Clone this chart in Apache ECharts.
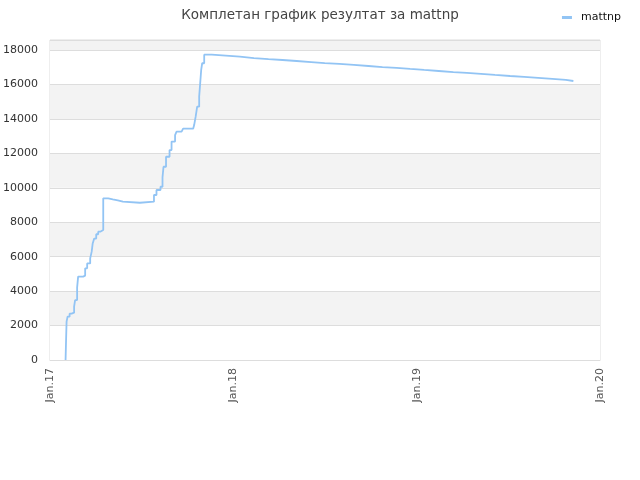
<!DOCTYPE html>
<html>
<head>
<meta charset="utf-8">
<script src="https://cdn.jsdelivr.net/npm/echarts@6/dist/echarts.min.js"></script>
<style>html,body{margin:0;padding:0;background:#fff}#c{width:640px;height:480px}</style>
</head>
<body>
<div id="c"></div>
<script>
var titleText = 'Комплетан график резултат за mattnp';
var seriesName = 'mattnp';
var dates = ['2017-02-01','2017-02-02','2017-02-03','2017-02-05','2017-02-09','2017-02-13','2017-02-18','2017-02-20','2017-02-24','2017-02-26',
 '2017-03-08','2017-03-12','2017-03-16','2017-03-22','2017-03-25','2017-03-27','2017-03-30','2017-04-03','2017-04-07','2017-04-11',
 '2017-04-17','2017-04-27','2017-05-06','2017-05-16','2017-05-26','2017-06-29','2017-07-27','2017-08-01','2017-08-09','2017-08-13',
 '2017-08-15','2017-08-20','2017-08-27','2017-08-31','2017-09-07','2017-09-10','2017-09-20','2017-09-23','2017-10-13','2017-10-15',
 '2017-10-18','2017-10-21','2017-10-25','2017-10-27','2017-10-29','2017-10-31','2017-11-04','2017-11-19','2017-12-17','2018-01-14',
 '2018-02-11','2018-03-12','2018-04-09','2018-05-07','2018-06-05','2018-07-02','2018-07-31','2018-08-29','2018-09-27','2018-10-25',
 '2018-11-22','2018-12-19','2019-01-16','2019-02-14','2019-03-15','2019-04-11','2019-05-09','2019-06-06','2019-07-06','2019-08-03',
 '2019-08-31','2019-09-28','2019-10-25','2019-11-09'];
var values = [0,1160,2225,2515,2690,2750,3100,3480,4200,4840,
 4900,5320,5610,5900,6290,6770,7050,7300,7450,7550,
 9390,9330,9270,9200,9130,9190,9580,9870,10060,10600,
 11220,11800,12190,12680,13060,13260,13350,13430,13470,13640,
 14130,14710,15290,16060,16840,17230,17730,17670,17610,17530,
 17470,17420,17360,17300,17240,17190,17130,17070,17010,16960,
 16900,16840,16780,16720,16670,16610,16550,16490,16440,16380,
 16320,16260,16200,16200];
var xTicks = ['2017-01-01','2018-01-01','2019-01-01','2020-01-01'];
var xTickLabels = ['Jan.17','Jan.18','Jan.19','Jan.20'];
var yMax = 18580;

function ms(s){return Date.parse(s+'T00:00:00Z');}
var data = dates.map(function(d,i){return [ms(d), values[i]];});
var tickMs = xTicks.map(ms);
var chart = echarts.init(document.getElementById('c'));
chart.setOption({
  animation:false,
  backgroundColor:'#fff',
  title:{text:titleText,left:'center',top:3,textStyle:{fontSize:13.5,fontWeight:'normal',color:'#444',fontFamily:'DejaVu Sans'}},
  legend:{data:[seriesName],right:14,top:7,itemWidth:10,itemHeight:3,icon:'rect',itemGap:6,
    textStyle:{fontSize:11,color:'#111',fontFamily:'DejaVu Sans',padding:[0,0,0,4]}},
  grid:{left:50,right:40,top:40,bottom:120,show:true,borderColor:'#ddd',borderWidth:1,backgroundColor:'transparent',
    containLabel:false,outerBoundsMode:'none'},
  xAxis:{type:'value',min:tickMs[0],max:tickMs[3],interval:tickMs[1]-tickMs[0],
    axisLine:{show:true,lineStyle:{color:'#ddd'}},axisTick:{show:false},splitLine:{show:false},
    axisLabel:{rotate:90,fontSize:11,color:'#555',fontFamily:'DejaVu Sans',margin:8,showMinLabel:true,showMaxLabel:true,
      formatter:function(v){var best=0;for(var i=0;i<tickMs.length;i++){if(Math.abs(tickMs[i]-v)<Math.abs(tickMs[best]-v))best=i;}return xTickLabels[best];}}
  },
  yAxis:{type:'value',min:0,max:yMax,interval:2000,
    axisLine:{show:false},axisTick:{show:false},
    splitLine:{show:true,lineStyle:{color:'#ddd'}},
    splitArea:{show:true,areaStyle:{color:['#ffffff','#f3f3f3']}},
    axisLabel:{fontSize:11,color:'#333',fontFamily:'DejaVu Sans',margin:12,showMaxLabel:false,
      formatter:function(v){return String(v);}}
  },
  series:[{name:seriesName,type:'line',step:'end',data:data,showSymbol:false,symbol:'none',
    lineStyle:{color:'#92c4f4',width:1.8},itemStyle:{color:'#92c4f4'}}]
});
</script>
</body>
</html>
